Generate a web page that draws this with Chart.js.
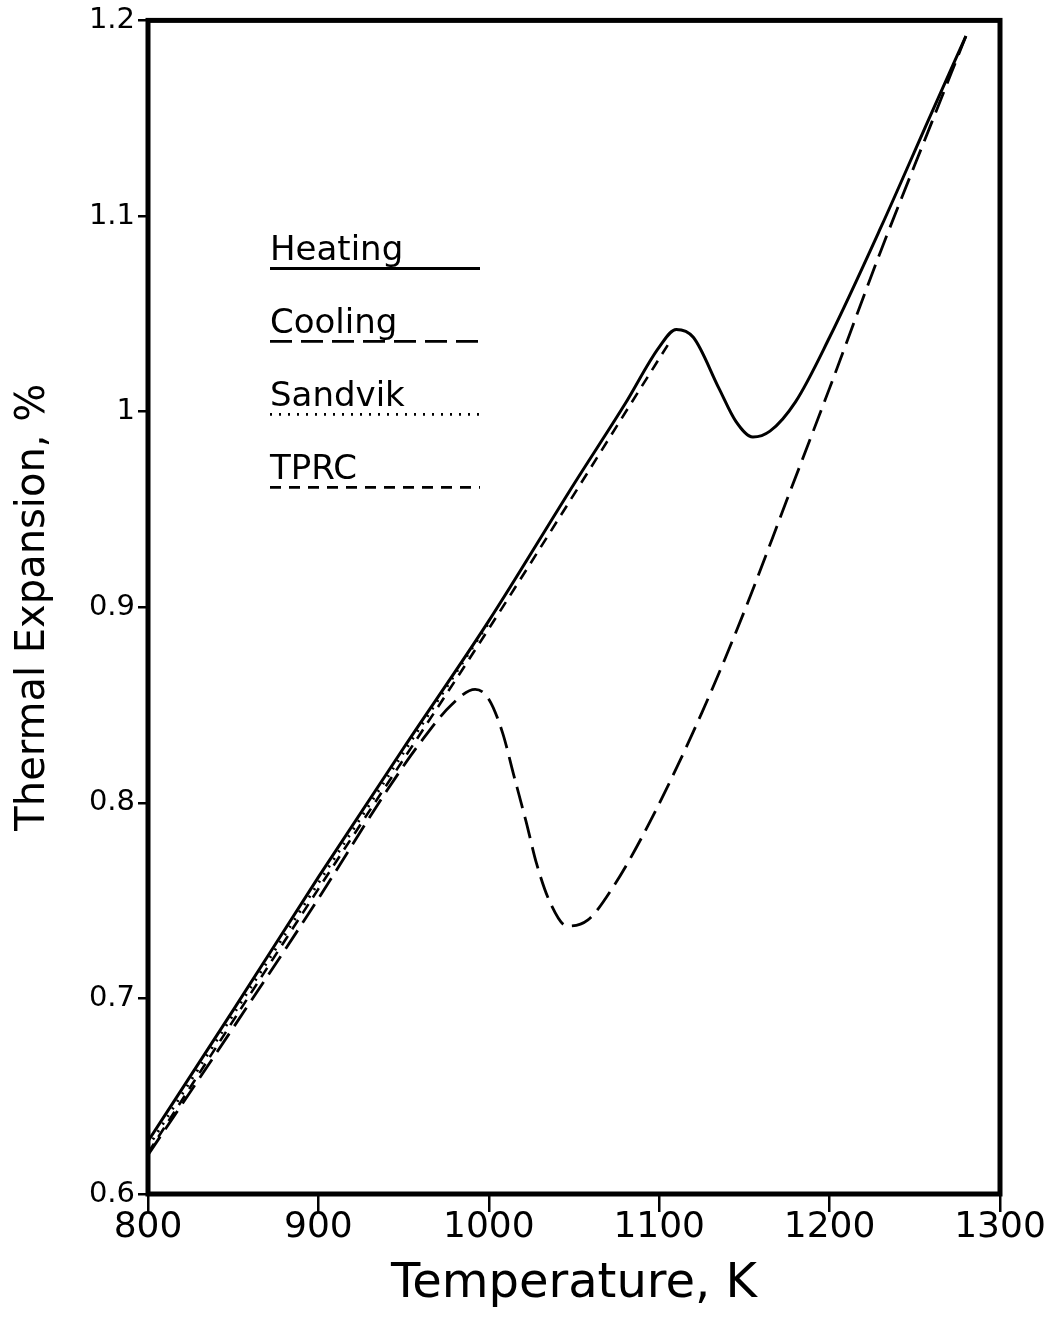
<!doctype html>
<html lang="en">
  <head>
    <meta charset="utf-8">
    <title>Thermal Expansion</title>
    <script src="https://cdn.jsdelivr.net/npm/chart.js@4.4.0/dist/chart.umd.min.js"></script>
    <style>
      body { margin: 0; background: #fff; }
      #wrap { width: 1053px; height: 1321px; }
    </style>
  </head>
  <body>
    <div id="wrap"><canvas id="myChart" width="1053" height="1321"></canvas></div>

    <script>
      // temperatures (K) and thermal expansion (%)
      var heatingT = [800, 850, 900, 950, 1000, 1050, 1080, 1100, 1110, 1120, 1135, 1145, 1155, 1165, 1180, 1200, 1230, 1260, 1280];
      var heatingV = [0.627, 0.694, 0.762, 0.828, 0.893, 0.963, 1.004, 1.033, 1.042, 1.038, 1.012, 0.995, 0.987, 0.990, 1.005, 1.038, 1.094, 1.153, 1.192];

      var coolingT = [800, 850, 900, 940, 960, 978, 992, 1000, 1008, 1015, 1022, 1028, 1036, 1046, 1058, 1073, 1095, 1125, 1150, 1175, 1200, 1230, 1260, 1280];
      var coolingV = [0.620, 0.685, 0.751, 0.806, 0.831, 0.850, 0.858, 0.853, 0.836, 0.813, 0.790, 0.769, 0.749, 0.737, 0.740, 0.757, 0.791, 0.846, 0.898, 0.955, 1.012, 1.082, 1.148, 1.192];

      var sandvikT = [800, 900, 1000];
      var sandvikV = [0.624, 0.759, 0.892];

      var tprcT = [800, 900, 1000, 1105];
      var tprcV = [0.621, 0.756, 0.889, 1.034];

      var legendNames = ["Heating", "Cooling", "Sandvik", "TPRC"];

      var FONT = "'DejaVu Sans', sans-serif";

      function pts(xs, ys){
        var out = [];
        for (var i = 0; i < xs.length; i++) out.push({x: xs[i], y: ys[i]});
        return out;
      }

      var styles = [
        {dash: [], width: 3},
        {dash: [22, 9], width: 2.8},
        {dash: [2, 7], width: 2.8},
        {dash: [11, 8], width: 2.6}
      ];

      // custom legend + frame drawn on top of the chart area
      var framePlugin = {
        id: "frame",
        afterDraw: function(chart){
          var ctx = chart.ctx, a = chart.chartArea;
          ctx.save();
          ctx.strokeStyle = "#000";
          ctx.lineWidth = 5;
          ctx.setLineDash([]);
          ctx.strokeRect(a.left, a.top, a.right - a.left, a.bottom - a.top);

          var x0 = a.left + 122, x1 = a.left + 332;
          ctx.font = "34px " + FONT;
          ctx.fillStyle = "#000";
          ctx.textBaseline = "alphabetic";
          for (var i = 0; i < legendNames.length; i++){
            var y = a.top + 240 + i * 73;
            ctx.fillText(legendNames[i], x0, y);
            ctx.beginPath();
            ctx.setLineDash(styles[i].dash);
            ctx.lineWidth = styles[i].width;
            ctx.moveTo(x0, y + 8);
            ctx.lineTo(x1, y + 8);
            ctx.stroke();
          }
          ctx.restore();
        }
      };

      function showChart(){
        var ctx = document.getElementById("myChart").getContext("2d");
        var series = [
          {label: legendNames[0], data: pts(heatingT, heatingV)},
          {label: legendNames[1], data: pts(coolingT, coolingV)},
          {label: legendNames[2], data: pts(sandvikT, sandvikV)},
          {label: legendNames[3], data: pts(tprcT, tprcV)}
        ];
        var datasets = series.map(function(s, i){
          return {
            label: s.label,
            data: s.data,
            borderColor: "#000",
            borderWidth: styles[i].width,
            borderDash: styles[i].dash,
            pointRadius: 0,
            fill: false,
            cubicInterpolationMode: "monotone"
          };
        });

        new Chart(ctx, {
          type: "line",
          data: {datasets: datasets},
          plugins: [framePlugin],
          options: {
            responsive: false,
            animation: false,
            layout: {padding: {top: 20, right: 53, left: 0, bottom: 0}},
            plugins: {legend: {display: false}, tooltip: {enabled: false}},
            scales: {
              x: {
                type: "linear",
                min: 800, max: 1300,
                ticks: {stepSize: 100, color: "#000", padding: -6, font: {family: FONT, size: 36},
                  callback: function(v){ return String(v); }},
                grid: {drawOnChartArea: false, color: "#000", lineWidth: 2.5, tickLength: 18},
                border: {display: false},
                title: {display: true, text: "Temperature, K", color: "#000", font: {family: FONT, size: 48}, padding: {top: 0, bottom: 8}},
                afterFit: function(s){ s.height = 127; }
              },
              y: {
                min: 0.6, max: 1.2,
                ticks: {
                  stepSize: 0.1, color: "#000", padding: 3, font: {family: FONT, size: 29},
                  callback: function(v){ return Math.abs(v - 1) < 1e-9 ? "1" : v.toFixed(1); }
                },
                grid: {drawOnChartArea: false, color: "#000", lineWidth: 2.5, tickLength: 10},
                border: {display: false},
                title: {display: true, text: "Thermal Expansion, %", color: "#000", font: {family: FONT, size: 40}, padding: {top: 10, bottom: 0}},
                afterFit: function(s){ s.width = 148; }
              }
            }
          }
        });
      }

      showChart();
    </script>
  </body>
</html>
